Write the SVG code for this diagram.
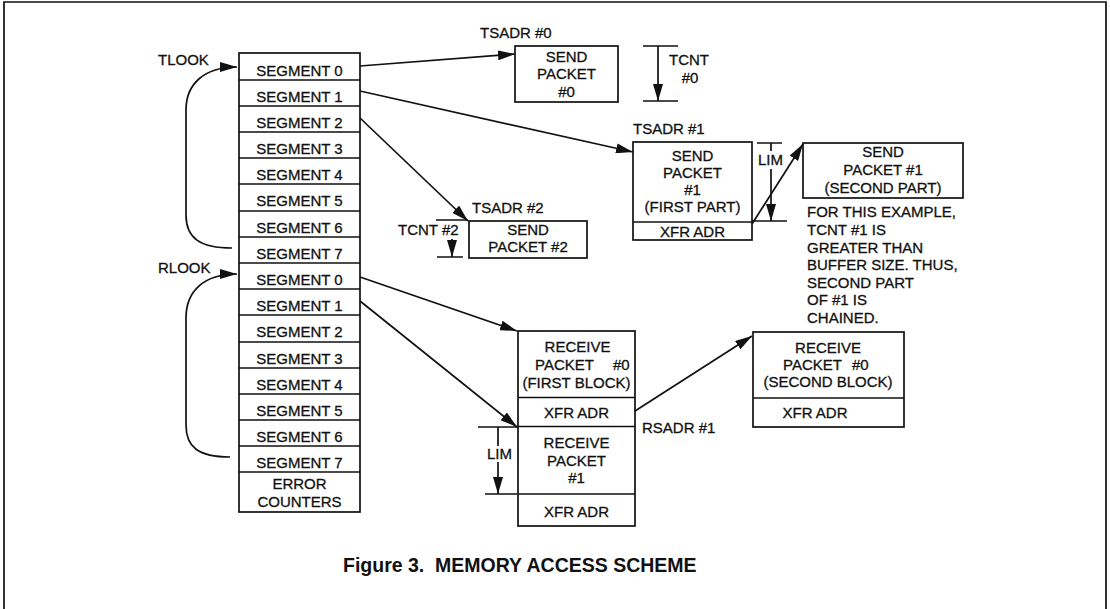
<svg xmlns="http://www.w3.org/2000/svg" width="1110" height="609" viewBox="0 0 1110 609">
<style>
.bx{fill:#fff;stroke:#111;stroke-width:1.7}
.ln{fill:none;stroke:#111;stroke-width:1.7}
.t{font-family:"Liberation Sans",Arial,sans-serif;font-size:15px;fill:#111;stroke:#111;stroke-width:0.3}
.c{text-anchor:middle}
.cap{font-family:"Liberation Sans",Arial,sans-serif;font-size:19.5px;font-weight:bold;fill:#111;white-space:pre}
</style>
<defs>
<marker id="ah" markerUnits="userSpaceOnUse" markerWidth="17" markerHeight="10" refX="17" refY="5" orient="auto">
<path d="M0,0 L17,5 L0,10 z" fill="#111"/>
</marker>
</defs>
<rect width="1110" height="609" fill="#fff"/>
<path class="ln" d="M4,609 V2 H1106 V609" stroke-width="2"/>

<g id="segments">
<rect class="bx" x="239" y="53" width="121" height="459"/>
<path class="ln" d="M239 80H360M239 106H360M239 132H360M239 158H360M239 184H360M239 211H360M239 237H360M239 263H360M239 289H360M239 315H360M239 342H360M239 368H360M239 394H360M239 420H360M239 446H360M239 472H360"/>
<g class="t c">
<text x="299.5" y="76">SEGMENT 0</text>
<text x="299.5" y="102">SEGMENT 1</text>
<text x="299.5" y="128">SEGMENT 2</text>
<text x="299.5" y="154">SEGMENT 3</text>
<text x="299.5" y="180">SEGMENT 4</text>
<text x="299.5" y="206">SEGMENT 5</text>
<text x="299.5" y="233">SEGMENT 6</text>
<text x="299.5" y="259">SEGMENT 7</text>
<text x="299.5" y="285">SEGMENT 0</text>
<text x="299.5" y="311">SEGMENT 1</text>
<text x="299.5" y="337">SEGMENT 2</text>
<text x="299.5" y="364">SEGMENT 3</text>
<text x="299.5" y="390">SEGMENT 4</text>
<text x="299.5" y="416">SEGMENT 5</text>
<text x="299.5" y="442">SEGMENT 6</text>
<text x="299.5" y="468">SEGMENT 7</text>
<text x="299.5" y="489">ERROR</text>
<text x="299.5" y="507">COUNTERS</text>
</g>
</g>

<g id="tlook">
<text class="t" x="158" y="65">TLOOK</text>
</g>
<g id="rlook">
<text class="t" x="158" y="273">RLOOK</text>
</g>

<g id="send0">
<text class="t" x="480" y="38">TSADR #0</text>
<rect class="bx" x="515" y="46" width="103" height="56"/>
<text class="t c" x="566.5" y="62">SEND</text>
<text class="t c" x="566.5" y="79">PACKET</text>
<text class="t c" x="566.5" y="97">#0</text>
</g>
<g id="tcnt0">
<text class="t c" x="689" y="65">TCNT</text>
<text class="t c" x="690" y="83">#0</text>
</g>

<g id="send1">
<text class="t" x="633" y="134">TSADR #1</text>
<rect class="bx" x="633" y="142" width="119" height="98"/>
<path class="ln" d="M633 222H752"/>
<text class="t c" x="692.5" y="160.5">SEND</text>
<text class="t c" x="692.5" y="178">PACKET</text>
<text class="t c" x="692.5" y="195">#1</text>
<text class="t c" x="692.5" y="212">(FIRST PART)</text>
<text class="t c" x="692.5" y="237">XFR ADR</text>
</g>
<g id="lim1">
<text class="t" x="758" y="165">LIM</text>
</g>

<g id="send1b">
<rect class="bx" x="803" y="143" width="160" height="55"/>
<text class="t c" x="883" y="157">SEND</text>
<text class="t c" x="883" y="175">PACKET #1</text>
<text class="t c" x="883" y="193">(SECOND PART)</text>
</g>
<g id="note">
<text class="t" x="807" y="217">FOR THIS EXAMPLE,</text>
<text class="t" x="807" y="234.5">TCNT #1 IS</text>
<text class="t" x="807" y="252.5">GREATER THAN</text>
<text class="t" x="807" y="270">BUFFER SIZE. THUS,</text>
<text class="t" x="807" y="288">SECOND PART</text>
<text class="t" x="807" y="305">OF #1 IS</text>
<text class="t" x="807" y="322.5">CHAINED.</text>
</g>

<g id="send2">
<text class="t" x="472" y="213">TSADR #2</text>
<rect class="bx" x="469" y="221" width="118" height="37"/>
<text class="t c" x="528" y="235">SEND</text>
<text class="t c" x="528" y="252">PACKET #2</text>
</g>
<g id="tcnt2">
<text class="t" x="398" y="235">TCNT #2</text>
</g>

<g id="recv0">
<rect class="bx" x="518" y="331" width="117" height="195"/>
<path class="ln" d="M518 397.5H635M518 426.5H635M518 494H635"/>
<text class="t c" x="577.5" y="352">RECEIVE</text>
<text class="t" x="535" y="370">PACKET</text>
<text class="t" x="613" y="370">#0</text>
<text class="t c" x="576.5" y="388">(FIRST BLOCK)</text>
<text class="t c" x="576.5" y="418">XFR ADR</text>
<text class="t c" x="576.5" y="448">RECEIVE</text>
<text class="t c" x="576.5" y="466">PACKET</text>
<text class="t c" x="576.5" y="483">#1</text>
<text class="t c" x="576.5" y="517">XFR ADR</text>
</g>
<g id="rsadr">
<text class="t" x="642" y="433">RSADR #1</text>
</g>
<g id="lim2">
<text class="t" x="487" y="459">LIM</text>
</g>

<g id="recv0b">
<rect class="bx" x="753" y="332" width="151" height="95"/>
<path class="ln" d="M753 398H904"/>
<text class="t c" x="828" y="352.5">RECEIVE</text>
<text class="t" x="783" y="370">PACKET</text>
<text class="t" x="852" y="370">#0</text>
<text class="t c" x="828" y="387">(SECOND BLOCK)</text>
<text class="t c" x="815" y="418">XFR ADR</text>
</g>

<g id="connectors">
<path class="ln" d="M232 248 C200 248 186 238 186 215 L186 110 C186 84 204 67 237 67" marker-end="url(#ah)"/>
<path class="ln" d="M230 457 C198 457 186 447 186 425 L186 318 C186 291 204 274 237 274" marker-end="url(#ah)"/>
<path class="ln" d="M360 66 L515 54" marker-end="url(#ah)"/>
<path class="ln" d="M360 91 L633 152" marker-end="url(#ah)"/>
<path class="ln" d="M360 118 L468 221" marker-end="url(#ah)"/>
<path class="ln" d="M752 224 L803 144" marker-end="url(#ah)"/>
<path class="ln" d="M360 277 L517 331" marker-end="url(#ah)"/>
<path class="ln" d="M360 301 L517 427" marker-end="url(#ah)"/>
<path class="ln" d="M635 411 L752 336" marker-end="url(#ah)"/>
<path class="ln" d="M643 46H678M643 101H678"/>
<path class="ln" d="M658 46 V101" marker-end="url(#ah)"/>
<path class="ln" d="M757 143H782M752 221H787M771 143V151"/>
<path class="ln" d="M771 169 V221" marker-end="url(#ah)"/>
<path class="ln" d="M436 220H468M437 257H463"/>
<path class="ln" d="M452 239 V257" marker-end="url(#ah)"/>
<path class="ln" d="M478 427H518M485 494H517M498 427V446"/>
<path class="ln" d="M498 462 V494" marker-end="url(#ah)"/>
</g>

<text class="cap" x="343" y="572">Figure 3.  MEMORY ACCESS SCHEME</text>
</svg>
